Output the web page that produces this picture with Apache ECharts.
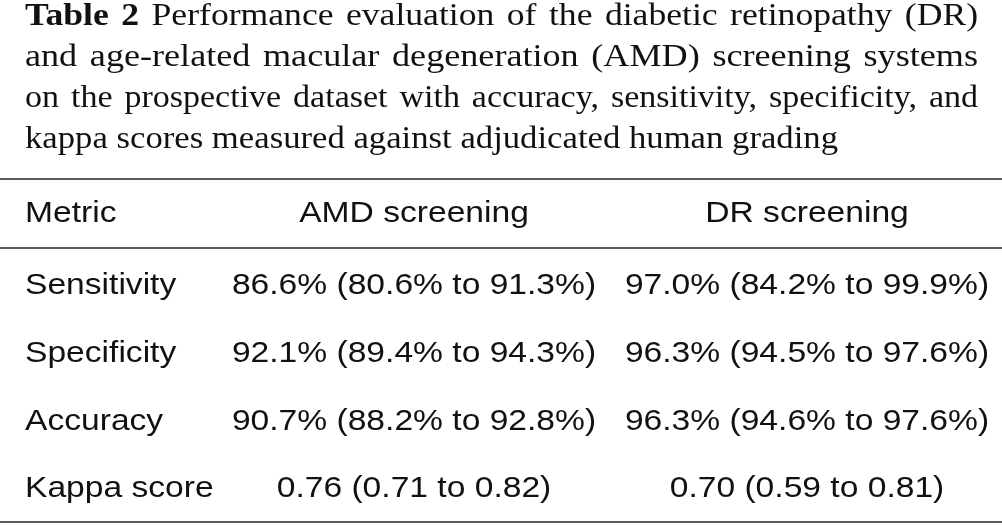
<!DOCTYPE html>
<html><head><meta charset="utf-8">
<script src="https://cdn.jsdelivr.net/npm/echarts@6/dist/echarts.min.js"></script>
<style>html,body{margin:0;padding:0;background:#fff}#c{width:1002px;height:525px}</style>
</head><body><div id="c"></div>
<script>
// ---------- data ----------
const titleLabel = ['Table', '2'];
const titleLines = [
  'Performance evaluation of the diabetic retinopathy (DR)',
  'and age-related macular degeneration (AMD) screening systems',
  'on the prospective dataset with accuracy, sensitivity, specificity, and',
  'kappa scores measured against adjudicated human grading'
];
const columnHeaders = ['Metric', 'AMD screening', 'DR screening'];
const metrics = ['Sensitivity', 'Specificity', 'Accuracy', 'Kappa score'];
const metricIsPercent = [true, true, true, false];
const amdEstimate = [86.6, 92.1, 90.7, 0.76];
const amdLower    = [80.6, 89.4, 88.2, 0.71];
const amdUpper    = [91.3, 94.3, 92.8, 0.82];
const drEstimate  = [97.0, 96.3, 96.3, 0.70];
const drLower     = [84.2, 94.5, 94.6, 0.59];
const drUpper     = [99.9, 97.6, 97.6, 0.81];

// ---------- layout ----------
const W = 1002;
const TEXT = '#111111';
const RULE = '#262626';
const serif = 'Liberation Serif';
const sans = 'Liberation Sans';
const titleFS = 32;
const titleLeft = 25, titleRight = 978, lastLineRight = 838;
const titleMid = [17, 58, 99, 140];
const tableFS = 30, tableSX = 1.12;
const colX = [25, 414, 807];
const headerMid = 214;
const ruleY = [179, 248, 522];

function fmt(v, pct) { return pct ? v.toFixed(1) + '%' : v.toFixed(2); }
function cell(est, lo, hi, pct) {
  return fmt(est, pct) + ' (' + fmt(lo, pct) + ' to ' + fmt(hi, pct) + ')';
}

const mctx = document.createElement('canvas').getContext('2d');
function tw(text, bold) {
  mctx.font = (bold ? 'bold ' : '') + titleFS + 'px "' + serif + '"';
  return mctx.measureText(text).width;
}

// horizontal scale so the unjustified last line has the reference width
const titleSX = Math.max(0.9, Math.min(1.2,
  (lastLineRight - titleLeft) / tw(titleLines[3], false)));
const spaceW = tw(' ', false);

const graphics = [];
titleLines.forEach((line, li) => {
  let words = line.split(' ').map(w => ({ t: w, bold: false }));
  if (li === 0) words = titleLabel.map(w => ({ t: w, bold: true })).concat(words);
  const raw = words.map(w => tw(w.t, w.bold));
  const rawSum = raw.reduce((a, b) => a + b, 0);
  const justify = li < titleLines.length - 1;
  let sx = titleSX;
  if (justify) {
    const wanted = (rawSum + spaceW * 1.4 * (words.length - 1)) * titleSX;
    const f = (titleRight - titleLeft) / wanted;
    sx = titleSX * Math.max(0.96, Math.min(1.07, f));
  }
  const widths = raw.map(w => w * sx);
  const sum = widths.reduce((a, b) => a + b, 0);
  const gap = justify ? (titleRight - titleLeft - sum) / (words.length - 1) : spaceW * sx;
  let x = titleLeft;
  words.forEach((w, k) => {
    graphics.push({
      type: 'text', x: x, y: titleMid[li], scaleX: sx,
      style: { text: w.t, x: 0, y: 0, fill: TEXT, align: 'left', verticalAlign: 'middle',
        fontFamily: serif, fontSize: titleFS, fontWeight: w.bold ? 'bold' : 'normal' }
    });
    x += widths[k] + gap;
  });
});

ruleY.forEach(y => graphics.push({
  type: 'line', shape: { x1: 0, y1: y, x2: W, y2: y },
  style: { stroke: RULE, lineWidth: 1.6 }
}));

columnHeaders.forEach((h, k) => graphics.push({
  type: 'text', x: colX[k], y: headerMid, scaleX: tableSX,
  style: { text: h, x: 0, y: 0, fill: TEXT, align: k === 0 ? 'left' : 'center',
    verticalAlign: 'middle', fontFamily: sans, fontSize: tableFS }
}));

const chart = echarts.init(document.getElementById('c'), null, { renderer: 'canvas' });
chart.setOption({
  animation: false,
  backgroundColor: '#ffffff',
  grid: { left: 0, right: 0, top: 252, bottom: 2 },
  xAxis: { type: 'value', min: 0, max: W, show: false },
  yAxis: { type: 'category', data: metrics, inverse: true, show: false },
  graphic: graphics,
  series: [{
    type: 'custom',
    data: metrics.map((m, i) => [0, i]),
    encode: { x: 0, y: 1 },
    renderItem: function (params, api) {
      const i = api.value(1);
      const pct = metricIsPercent[i];
      const texts = [
        metrics[i],
        cell(amdEstimate[i], amdLower[i], amdUpper[i], pct),
        cell(drEstimate[i], drLower[i], drUpper[i], pct)
      ];
      return {
        type: 'group',
        children: texts.map((t, k) => {
          const p = api.coord([colX[k], i]);
          return {
            type: 'text', x: p[0], y: p[1], scaleX: tableSX,
            style: { text: t, x: 0, y: 0, fill: TEXT, align: k === 0 ? 'left' : 'center',
              verticalAlign: 'middle', fontFamily: sans, fontSize: tableFS }
          };
        })
      };
    }
  }]
});
</script>
</body></html>
